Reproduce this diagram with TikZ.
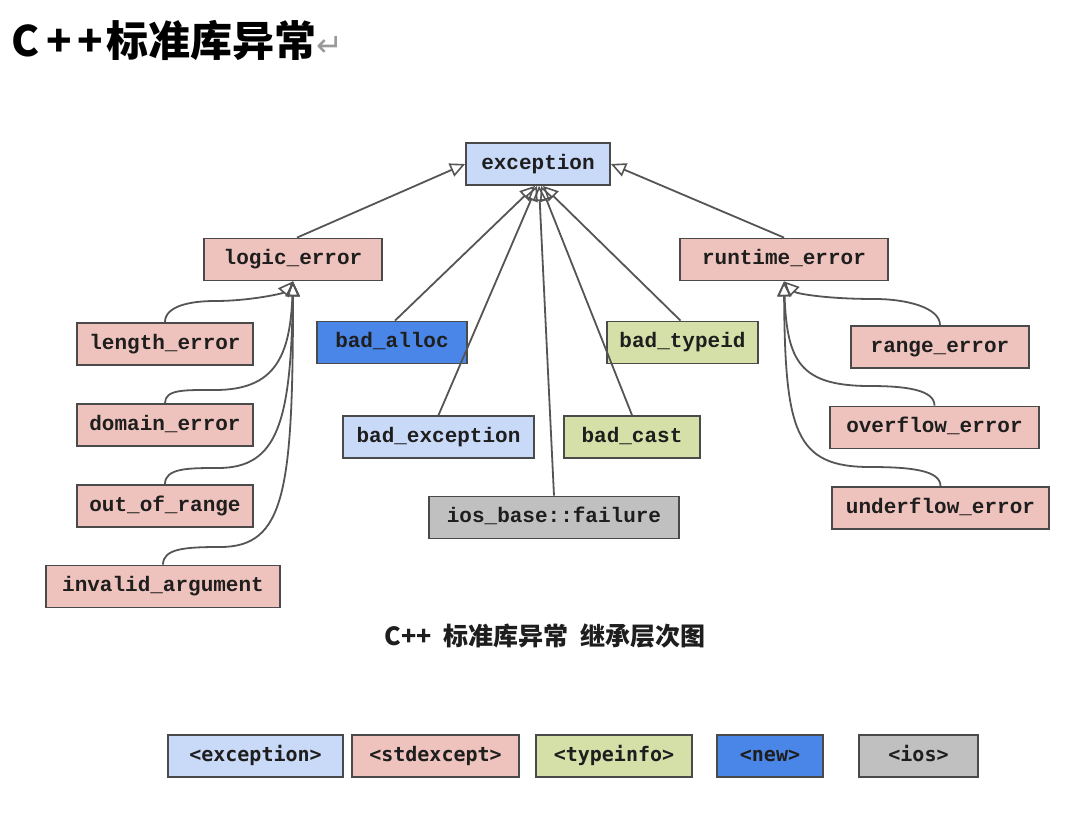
\documentclass[tikz,border=0pt]{standalone}
\usepackage{fontspec}
\setmonofont{Liberation Mono}
\newfontfamily\cjk{Noto Sans CJK SC}
\newfontfamily\dvs{DejaVu Sans}
\newfontfamily\legfont{DejaVu Sans Mono}
\usetikzlibrary{arrows.meta}
\definecolor{cblue}{HTML}{C9DAF8}
\definecolor{cpink}{HTML}{EFC3BD}
\definecolor{cgreen}{HTML}{D5E0A8}
\definecolor{cdblue}{HTML}{4A86E8}
\definecolor{cgray}{HTML}{C0C0C0}
\definecolor{cborder}{HTML}{4A4A4A}
\definecolor{cline}{HTML}{555555}
\definecolor{ctext}{HTML}{1E1E1E}
\tikzset{
  cls/.style={draw=cborder, line width=1.8pt, text=ctext,
    font=\ttfamily\bfseries\fontsize{21}{24}\selectfont,
    minimum height=42pt, inner sep=0pt, text height=14pt, text depth=4pt},
  bw/.style={minimum width=#1pt},
  inh/.style={draw=cline, line width=1.8pt,
    -{Triangle[open, length=15pt, width=14pt, line width=1.6pt]}},
  leg/.style={draw=cborder, line width=2.2pt, text=ctext,
    font=\legfont\bfseries\fontsize{20}{24}\selectfont,
    minimum height=42pt, inner sep=0pt, text height=15pt, text depth=5pt},
}
\begin{document}
\begin{tikzpicture}[x=1pt,y=-1pt]
\useasboundingbox (0,0) rectangle (1077,815);
\fill[white] (0,0) rectangle (1077,815);

% title
\node[anchor=west, inner sep=0pt] (title) at (11,40)
  {{\cjk\bfseries\fontsize{42}{46}\selectfont C\kern7pt+\kern6pt+\kern3pt标准库异常}{\dvs\fontsize{32}{36}\selectfont\color{gray!80}↵}};

% class nodes
\node[cls, fill=cblue, bw=144] (ex) at (538,164) {exception};
\node[cls, fill=cpink, bw=178] (le) at (293,259.5) {logic\_error};
\node[cls, fill=cpink, bw=208] (re) at (784,259.5) {runtime\_error};
\node[cls, fill=cpink, bw=176] (len) at (165,344) {length\_error};
\node[cls, fill=cpink, bw=176] (dom) at (165,425) {domain\_error};
\node[cls, fill=cpink, bw=176] (oor) at (165,506) {out\_of\_range};
\node[cls, fill=cpink, bw=234] (inv) at (163,586.5) {invalid\_argument};
\node[cls, fill=cdblue, bw=150] (ba) at (392,342.5) {bad\_alloc};
\node[cls, fill=cblue, bw=191] (bex) at (438.5,437) {bad\_exception};
\node[cls, fill=cgreen, bw=151] (btid) at (682.5,342.5) {bad\_typeid};
\node[cls, fill=cgreen, bw=136] (bc) at (632,437) {bad\_cast};
\node[cls, fill=cgray, bw=250] (ios) at (554,517.5) {ios\_base::failure};
\node[cls, fill=cpink, bw=178] (rng) at (940,347) {range\_error};
\node[cls, fill=cpink, bw=209] (ovf) at (934.5,427.5) {overflow\_error};
\node[cls, fill=cpink, bw=217] (udf) at (940.5,508) {underflow\_error};

% inheritance to exception
\draw[inh] ([xshift=4pt]le.north) -- (ex.west);
\draw[inh] (re.north) -- (ex.east);
\draw[inh] ([xshift=3pt]ba.north) -- ([xshift=-3pt]ex.south);
\draw[inh] (bex.north) -- ([xshift=-1pt]ex.south);
\draw[inh] (ios.north) -- ([xshift=1pt]ex.south);
\draw[inh] (bc.north) -- ([xshift=3pt]ex.south);
\draw[inh] ([xshift=-2pt]btid.north) -- ([xshift=5pt]ex.south);

% logic_error children
\draw[inh] (len.north) .. controls +(0,-16) and +(-25,0) .. (215,301)
  .. controls +(35,0) and +(-10,12) .. (le.south);
\draw[inh] (dom.north) .. controls +(0,-14) and +(-30,0) .. (215,390)
  .. controls +(60,0) and +(-3,75) .. (le.south);
\draw[inh] (oor.north) .. controls +(0,-16) and +(-30,0) .. (218,468)
  .. controls +(60,0) and +(-2,140) .. (le.south);
\draw[inh] (inv.north) .. controls +(0,-16) and +(-35,0) .. (220,547)
  .. controls +(65,0) and +(0,210) .. (le.south);

% runtime_error children
\draw[inh] (rng.north) .. controls +(0,-18) and +(30,0) .. (875,299)
  .. controls +(-50,0) and +(12,12) .. (re.south);
\draw[inh] (ovf.north) .. controls +(0,-16) and +(35,0) .. (870,386)
  .. controls +(-70,0) and +(3,80) .. (re.south);
\draw[inh] (udf.north) .. controls +(0,-16) and +(40,0) .. (870,467)
  .. controls +(-75,0) and +(1,150) .. (re.south);

% caption
\node[inner sep=0pt, font=\cjk\bfseries\fontsize{25}{28}\selectfont, text=ctext] (cap) at (545,636)
  {C++\hspace{12pt}标准库异常\hspace{12pt}继承层次图};

% legend
\node[leg, fill=cblue, bw=175] (l1) at (255.5,756) {<exception>};
\node[leg, fill=cpink, bw=167] (l2) at (435.5,756) {<stdexcept>};
\node[leg, fill=cgreen, bw=156] (l3) at (614,756) {<typeinfo>};
\node[leg, fill=cdblue, bw=106] (l4) at (770,756) {<new>};
\node[leg, fill=cgray, bw=119] (l5) at (918.5,756) {<ios>};
\end{tikzpicture}
\end{document}
